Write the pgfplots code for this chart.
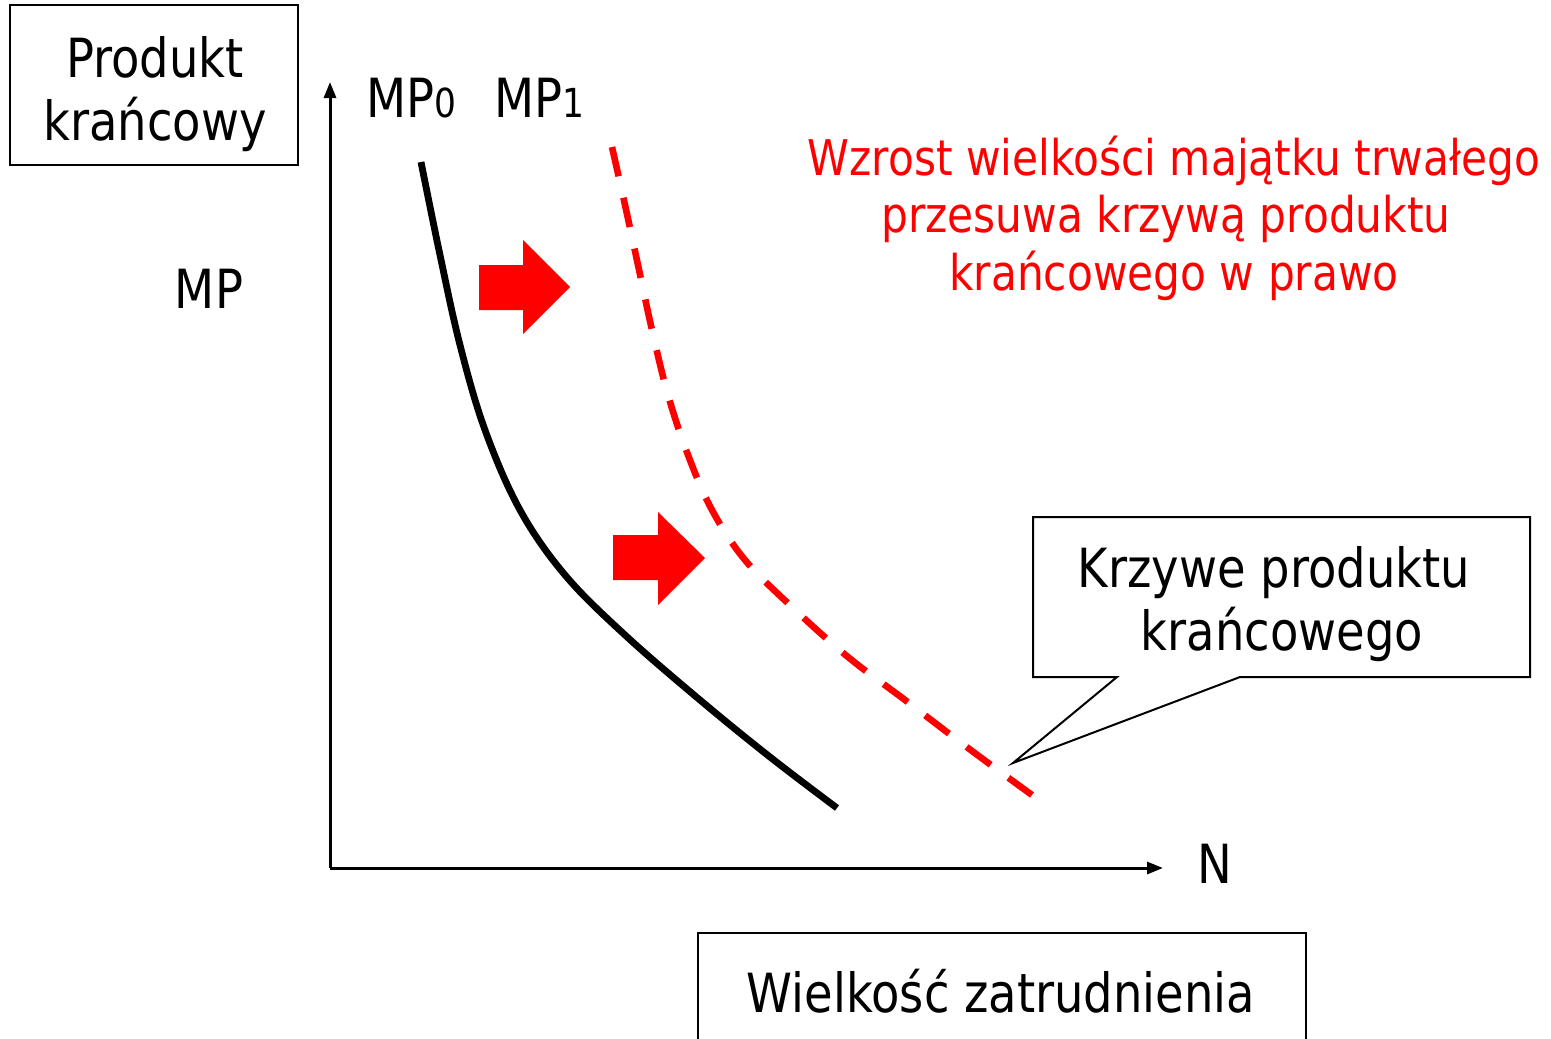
\documentclass[border=0pt]{standalone}
\usepackage{pgfplots}
\pgfplotsset{compat=1.18}
\usetikzlibrary{arrows.meta}
\usepackage{fontspec}
\setmainfont{DejaVu Sans}[FakeStretch=0.86]
\newcommand{\fA}{\fontsize{27bp}{32bp}\selectfont}
\newcommand{\fR}{\fontsize{24.6bp}{29bp}\selectfont}
\newcommand{\fS}{\fontsize{20bp}{24bp}\selectfont}
\begin{document}
\begin{tikzpicture}
\begin{axis}[scale only axis, width=775.5bp, height=519.5bp,
  xmin=0, xmax=1551, ymin=0, ymax=1039, y dir=reverse,
  hide axis, clip=false, at={(0,0)}, anchor=south west]
% axes
\draw[line width=1.5bp, -{Triangle[length=8bp,width=6bp]}] (axis cs:330,868) -- (axis cs:330,82);
\draw[line width=1.5bp, -{Triangle[length=8bp,width=6bp]}] (axis cs:330,868) -- (axis cs:1163,868);
% black curve MP0
\addplot[black, line width=3.4bp, smooth, tension=0.6] coordinates {
 (421,162) (440,255) (460,345) (485,430) (520,510) (565,575)
 (625,635) (700,700) (770,757) (837,808)};
% red dashed curve MP1
\addplot[red, line width=3.3bp, smooth, tension=0.6, dash pattern=on 15bp off 11bp] coordinates {
 (612,147) (625,205) (638,265) (652,330) (668,395) (688,455) (712,510)
 (745,560) (792,607) (848,657) (905,700) (968,748) (1032,795)};
% red block arrows
\addplot[fill=red, draw=none] coordinates {
 (479,265) (523,265) (523,240) (570,287) (523,334) (523,310) (479,310)} -- cycle;
\addplot[fill=red, draw=none] coordinates {
 (613,535) (658,535) (658,512) (705,558) (658,605) (658,580) (613,580)} -- cycle;
% top-left box
\draw[line width=1bp] (axis cs:10,5) rectangle (axis cs:298,165);
\node[font=\fA, anchor=base, inner sep=0] at (axis cs:155,77) {Produkt};
\node[font=\fA, anchor=base, inner sep=0] at (axis cs:155,140) {krańcowy};
% labels
\node[font=\fA, anchor=base west, inner sep=0] at (axis cs:366,117) {MP{\fS 0}};
\node[font=\fA, anchor=base west, inner sep=0] at (axis cs:494,117) {MP{\fS 1}};
\node[font=\fA, anchor=base, inner sep=0] at (axis cs:209,308) {MP};
\node[font=\fA, anchor=base, inner sep=0] at (axis cs:1215,883) {N};
% red text
\node[font=\fR, text=red, anchor=base, inner sep=0] at (axis cs:1174,175) {Wzrost wielkości majątku trwałego};
\node[font=\fR, text=red, anchor=base, inner sep=0] at (axis cs:1166,232) {przesuwa krzywą produktu};
\node[font=\fR, text=red, anchor=base, inner sep=0] at (axis cs:1174,290) {krańcowego w prawo};
% callout
\draw[line width=1bp, fill=white] (axis cs:1033,517) -- (axis cs:1530,517) -- (axis cs:1530,677)
  -- (axis cs:1240,677) -- (axis cs:1013,763) -- (axis cs:1117,677) -- (axis cs:1033,677) -- cycle;
\node[font=\fA, anchor=base, inner sep=0] at (axis cs:1274,587) {Krzywe produktu};
\node[font=\fA, anchor=base, inner sep=0] at (axis cs:1282,650) {krańcowego};
% bottom box
\draw[line width=1bp] (axis cs:698,1045) -- (axis cs:698,933) -- (axis cs:1306,933) -- (axis cs:1306,1045);
\node[font=\fA, anchor=base, inner sep=0] at (axis cs:1001,1012) {Wielkość zatrudnienia};
\end{axis}
\pgfresetboundingbox
\useasboundingbox (0,0) rectangle (775.5bp,519.5bp);
\end{tikzpicture}
\end{document}
